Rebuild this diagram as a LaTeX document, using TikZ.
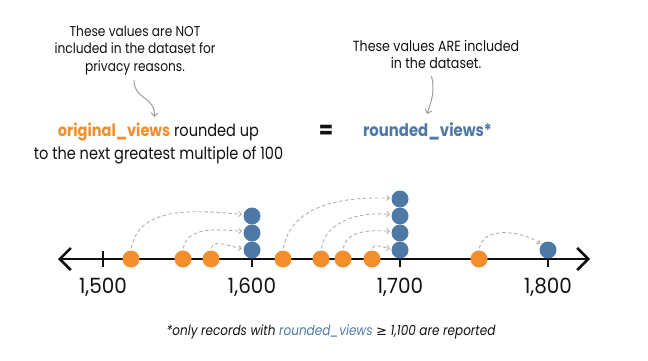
\documentclass[tikz,border=0pt]{standalone}
\usepackage{fontspec}
\setmainfont{Poppins}[FakeStretch=0.86]
\newfontfamily\tickfont{Poppins}[FakeStretch=0.95]
\newfontfamily\symfont{DejaVu Sans}
\usetikzlibrary{arrows.meta}
\definecolor{orng}{HTML}{F28E2B}
\definecolor{blu}{HTML}{4E79A7}
\definecolor{arcgray}{HTML}{B0B0B0}
\definecolor{ink}{HTML}{111111}
\begin{document}
\begin{tikzpicture}[x=1pt,y=-1pt,
  odot/.style={circle,fill=orng,minimum size=17pt,inner sep=0pt},
  bdot/.style={circle,fill=blu,minimum size=17pt,inner sep=0pt},
  curvearrow/.style={draw=arcgray,line width=0.9pt,dash pattern=on 3.5pt off 2.5pt,
    -{Straight Barb[length=2.5pt,width=5pt]},shorten <=2pt,shorten >=1.5pt},
  pointer/.style={draw=arcgray!90!black,line width=1pt,-{Straight Barb[length=3.5pt,width=7pt]}},
  axisline/.style={draw=ink,line width=2.6pt},
  tickmark/.style={draw=ink,line width=2.6pt},
  ticklabel/.style={font=\tickfont\fontsize{21}{23}\selectfont,text=ink},
  note/.style={font=\fontsize{14.2}{17.5}\selectfont,align=center,text=ink},
  mainlbl/.style={font=\fontsize{16.9}{23.5}\selectfont,align=center,text=ink}
]
\useasboundingbox (0,0) rectangle (648,361);

% top notes
\node[note] (n1) at (135,50.5) {These values are NOT\\included in the dataset for\\privacy reasons.};
\node[note,font=\fontsize{14.7}{17.5}\selectfont] (n2) at (436,54.5) {These values ARE included\\in the dataset.};

% main labels
\node[mainlbl] (m1) at (158.5,143.5) {{\bfseries\color{orng}original\_views} rounded up\\to the next greatest multiple of 100};
\node[font=\fontsize{24}{24}\selectfont\bfseries,text=ink] (eq) at (326,132) {=};
\node[font=\fontsize{17.3}{20}\selectfont\bfseries,text=blu] (m2) at (427.5,131.7) {rounded\_views*};

% curly pointers
\coordinate (p1s) at (134,80);
\coordinate (p1e) at (154.5,117);
\draw[pointer] (p1s) .. controls (134,100) and (155,96) .. (p1e);
\coordinate (p2s) at (431.5,76);
\coordinate (p2e) at (427,114);
\draw[pointer] (p2s) .. controls (435,90) and (432,100) .. (p2e);

% axis
\coordinate (L) at (58,259);
\coordinate (R) at (590,259);
\draw[axisline,{Straight Barb[length=11pt,width=22pt]}-{Straight Barb[length=11pt,width=22pt]}] (L) -- (R);

% ticks
\coordinate (t15a) at (103,251); \coordinate (t15b) at (103,267);
\coordinate (t16a) at (252,251); \coordinate (t16b) at (252,267);
\coordinate (t17a) at (400,251); \coordinate (t17b) at (400,267);
\coordinate (t18a) at (548,251); \coordinate (t18b) at (548,267);
\draw[tickmark] (t15a) -- (t15b);
\draw[tickmark] (t16a) -- (t16b);
\draw[tickmark] (t17a) -- (t17b);
\draw[tickmark] (t18a) -- (t18b);

\node[ticklabel] (l15) at (103,287) {1,500};
\node[ticklabel] (l16) at (252,287) {1,600};
\node[ticklabel] (l17) at (400,287) {1,700};
\node[ticklabel] (l18) at (548,287) {1,800};

% orange dots
\node[odot] (o1) at (131,259) {};
\node[odot] (o2) at (183,259) {};
\node[odot] (o3) at (211,259) {};
\node[odot] (o4) at (283,259) {};
\node[odot] (o5) at (321,259) {};
\node[odot] (o6) at (343,259) {};
\node[odot] (o7) at (372,259) {};
\node[odot] (o8) at (479,259) {};

% blue dots
\node[bdot] (b16a) at (252,250) {};
\node[bdot] (b16b) at (252,233) {};
\node[bdot] (b16c) at (252,216) {};
\node[bdot] (b17a) at (400,250) {};
\node[bdot] (b17b) at (400,233) {};
\node[bdot] (b17c) at (400,216) {};
\node[bdot] (b17d) at (400,199) {};
\node[bdot] (b18) at (548,250) {};

% arcs
\draw[curvearrow] (o1.90) to[out=80,in=175] (b16c.170);
\draw[curvearrow] (o2.90) to[out=80,in=175] (b16b.170);
\draw[curvearrow] (o3.90) to[out=80,in=175] (b16a.170);
\draw[curvearrow] (o4.90) to[out=80,in=178] (b17d.175);
\draw[curvearrow] (o5.90) to[out=80,in=175] (b17c.170);
\draw[curvearrow] (o6.90) to[out=80,in=175] (b17b.170);
\draw[curvearrow] (o7.90) to[out=80,in=175] (b17a.170);
\draw[curvearrow] (o8.90) to[out=80,in=145] (b18.140);

% footnote
\node[font=\fontsize{14}{17}\selectfont\itshape,text=ink] (fn) at (331,331.7)
  {*only records with {\color{blu}rounded\_views} {\symfont\fontsize{13}{17}\selectfont ≥} 1,100 are reported};
\end{tikzpicture}
\end{document}
